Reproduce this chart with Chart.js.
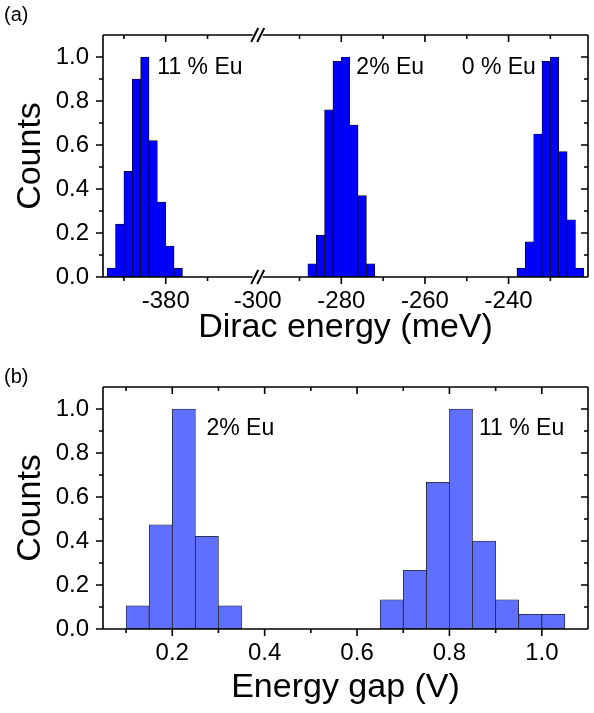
<!DOCTYPE html>
<html>
<head>
<meta charset="utf-8">
<script src="https://cdn.jsdelivr.net/npm/chart.js@4.4.0/dist/chart.umd.min.js"></script>
<style>
html, body { margin: 0; padding: 0; background: #fff; }
#wrap { position: relative; width: 594px; height: 713px; }
.box { position: absolute; left: 0; width: 594px; }
</style>
</head>
<body>
<div id="wrap">
  <div class="box" style="top:0;height:356px"><canvas id="chartA" width="594" height="356"></canvas></div>
  <div class="box" style="top:356px;height:357px"><canvas id="chartB" width="594" height="357"></canvas></div>
</div>
<script>
// (a) Dirac energy histograms, bin centres in meV
var eu11Dirac = [-393, -391, -389, -387, -385, -383, -381, -379, -377];
var eu11DiracCounts = [0.04, 0.24, 0.48, 0.90, 1.0, 0.62, 0.34, 0.14, 0.04];
var eu2Dirac = [-287, -285, -283, -281, -279, -277, -275, -273];
var eu2DiracCounts = [0.06, 0.19, 0.76, 0.98, 1.0, 0.69, 0.37, 0.06];
var eu0Dirac = [-237, -235, -233, -231, -229, -227, -225, -223];
var eu0DiracCounts = [0.04, 0.16, 0.65, 0.98, 1.0, 0.57, 0.26, 0.04];
var diracTicks = [-380, -300, -280, -260, -240];
var diracMinor = [-390, -370, -290, -270, -250, -230];

// (b) energy gap histograms, bin centres in V
var eu2Gap = [0.125, 0.175, 0.225, 0.275, 0.325];
var eu2GapCounts = [0.105, 0.474, 1.0, 0.421, 0.105];
var eu11Gap = [0.675, 0.725, 0.775, 0.825, 0.875, 0.925, 0.975, 1.025];
var eu11GapCounts = [0.133, 0.267, 0.667, 1.0, 0.4, 0.133, 0.067, 0.067];
var gapTicks = [0.2, 0.4, 0.6, 0.8, 1.0];
var gapMinor = [0.1, 0.3, 0.5, 0.7, 0.9];

var countTicks = [0, 0.2, 0.4, 0.6, 0.8, 1.0];
var countMinor = [0.1, 0.3, 0.5, 0.7, 0.9];

// axis break in (a): everything below cutLow is shifted up to sit next to cutHigh
var cutLow = -358, cutHigh = -300, gapShift = cutHigh - cutLow;
function squeeze(v) { return v <= cutLow ? v + gapShift : v; }

function points(xs, ys, f) {
  return xs.map(function (x, i) { return { x: f ? f(x) : x, y: ys[i] }; });
}

Chart.defaults.font.family = '"Liberation Sans", Arial, sans-serif';
Chart.defaults.color = '#000';

// frame, minor/major ticks on all four sides, axis break, notes and panel letter
var decor = {
  id: 'decor',
  afterDatasetsDraw: function (chart, args, o) {
    var c = chart.ctx, a = chart.chartArea, xs = chart.scales.x, ys = chart.scales.y;
    c.save();
    c.strokeStyle = '#000';
    c.lineWidth = 1.6;
    var bx = o.breakAt != null ? xs.getPixelForValue(o.breakAt) : null;
    c.beginPath();
    [a.top, a.bottom].forEach(function (yy) {
      if (bx != null) {
        c.moveTo(a.left, yy); c.lineTo(bx - 5, yy);
        c.moveTo(bx + 5, yy); c.lineTo(a.right, yy);
      } else {
        c.moveTo(a.left, yy); c.lineTo(a.right, yy);
      }
    });
    c.moveTo(a.left, a.top); c.lineTo(a.left, a.bottom);
    c.moveTo(a.right, a.top); c.lineTo(a.right, a.bottom);

    function xt(vals, len) {
      vals.forEach(function (v) {
        var p = xs.getPixelForValue(v);
        c.moveTo(p, a.bottom); c.lineTo(p, a.bottom + len);
        c.moveTo(p, a.top); c.lineTo(p, a.top + len);
      });
    }
    function yt(vals, len) {
      vals.forEach(function (v) {
        var p = ys.getPixelForValue(v);
        c.moveTo(a.left, p); c.lineTo(a.left - len, p);
        c.moveTo(a.right, p); c.lineTo(a.right - len, p);
      });
    }
    xt(o.xMajor, 7); xt(o.xMinor, 4);
    yt(countTicks, 7); yt(countMinor, 4);
    c.stroke();

    if (bx != null) {
      c.lineWidth = 2;
      c.beginPath();
      [a.top, a.bottom].forEach(function (yy) {
        [-3, 3].forEach(function (off) {
          c.moveTo(bx + off - 3.5, yy + 7); c.lineTo(bx + off + 3.5, yy - 7);
        });
      });
      c.stroke();
    }

    c.fillStyle = '#000';
    c.textBaseline = 'middle';
    c.textAlign = 'left';
    c.font = '23px "Liberation Sans", Arial, sans-serif';
    o.notes.forEach(function (n) {
      c.fillText(n.text, xs.getPixelForValue(n.x), ys.getPixelForValue(n.y));
    });
    c.font = '20px "Liberation Sans", Arial, sans-serif';
    c.fillText(o.letter, 4, o.letterY);
    c.restore();
  }
};

function yScale() {
  return {
    min: 0, max: 1.1,
    afterFit: function (s) { s.width = 103; },
    afterBuildTicks: function (s) { s.ticks = countTicks.map(function (v) { return { value: v }; }); },
    grid: { display: false, drawTicks: false },
    border: { display: false },
    ticks: { font: { size: 24 }, padding: 14, callback: function (v) { return Number(v).toFixed(1); } },
    title: { display: true, text: 'Counts', font: { size: 34 }, padding: { top: 10, bottom: 0 } }
  };
}

var diracBars = points(eu11Dirac, eu11DiracCounts, squeeze)
  .concat(points(eu2Dirac, eu2DiracCounts, squeeze), points(eu0Dirac, eu0DiracCounts, squeeze));

new Chart(document.getElementById('chartA'), {
  type: 'bar',
  data: {
    datasets: [{
      data: diracBars,
      backgroundColor: '#0000ff',
      borderColor: '#000',
      borderWidth: 0.7,
      borderSkipped: false,
      barPercentage: 1,
      categoryPercentage: 1
    }]
  },
  options: {
    responsive: false,
    animation: false,
    layout: { padding: { top: 35, right: 6, left: 0, bottom: 0 } },
    plugins: {
      legend: { display: false },
      tooltip: { enabled: false },
      decor: {
        breakAt: cutHigh,
        xMajor: diracTicks.filter(function (v) { return v !== cutHigh; }).map(squeeze),
        xMinor: diracMinor.map(squeeze),
        notes: [
          { text: '11 % Eu', x: squeeze(-382), y: 0.95 },
          { text: '2% Eu', x: -276.4, y: 0.95 },
          { text: '0 % Eu', x: -251.2, y: 0.95 }
        ],
        letter: '(a)', letterY: 15
      }
    },
    scales: {
      x: {
        type: 'linear',
        offset: false,
        min: squeeze(-395), max: -221,
        afterFit: function (s) { s.height = 79; },
        afterBuildTicks: function (s) { s.ticks = diracTicks.map(function (v) { return { value: squeeze(v) }; }); },
        grid: { display: false, drawTicks: false },
        border: { display: false },
        ticks: { font: { size: 24 }, padding: 10, maxRotation: 0, autoSkip: false,
          callback: function (v, i) { return String(diracTicks[i]); } },
        title: { display: true, text: 'Dirac energy (meV)', font: { size: 34 }, padding: { top: 0, bottom: 8 } }
      },
      y: yScale()
    }
  },
  plugins: [decor]
});

var gapBars = points(eu2Gap, eu2GapCounts).concat(points(eu11Gap, eu11GapCounts));

new Chart(document.getElementById('chartB'), {
  type: 'bar',
  data: {
    datasets: [{
      data: gapBars,
      backgroundColor: '#5f6fff',
      borderColor: '#222',
      borderWidth: 0.8,
      borderSkipped: false,
      barPercentage: 1,
      categoryPercentage: 1
    }]
  },
  options: {
    responsive: false,
    animation: false,
    layout: { padding: { top: 31, right: 6, left: 0, bottom: 0 } },
    plugins: {
      legend: { display: false },
      tooltip: { enabled: false },
      decor: {
        breakAt: null,
        xMajor: gapTicks,
        xMinor: gapMinor,
        notes: [
          { text: '2% Eu', x: 0.274, y: 0.91 },
          { text: '11 % Eu', x: 0.864, y: 0.91 }
        ],
        letter: '(b)', letterY: 21
      }
    },
    scales: {
      x: {
        type: 'linear',
        offset: false,
        min: 0.05, max: 1.1,
        afterFit: function (s) { s.height = 84; },
        afterBuildTicks: function (s) { s.ticks = gapTicks.map(function (v) { return { value: v }; }); },
        grid: { display: false, drawTicks: false },
        border: { display: false },
        ticks: { font: { size: 24 }, padding: 10, maxRotation: 0, autoSkip: false,
          callback: function (v) { return Number(v).toFixed(1); } },
        title: { display: true, text: 'Energy gap (V)', font: { size: 34 }, padding: { top: 0, bottom: 5 } }
      },
      y: yScale()
    }
  },
  plugins: [decor]
});
</script>
</body>
</html>
